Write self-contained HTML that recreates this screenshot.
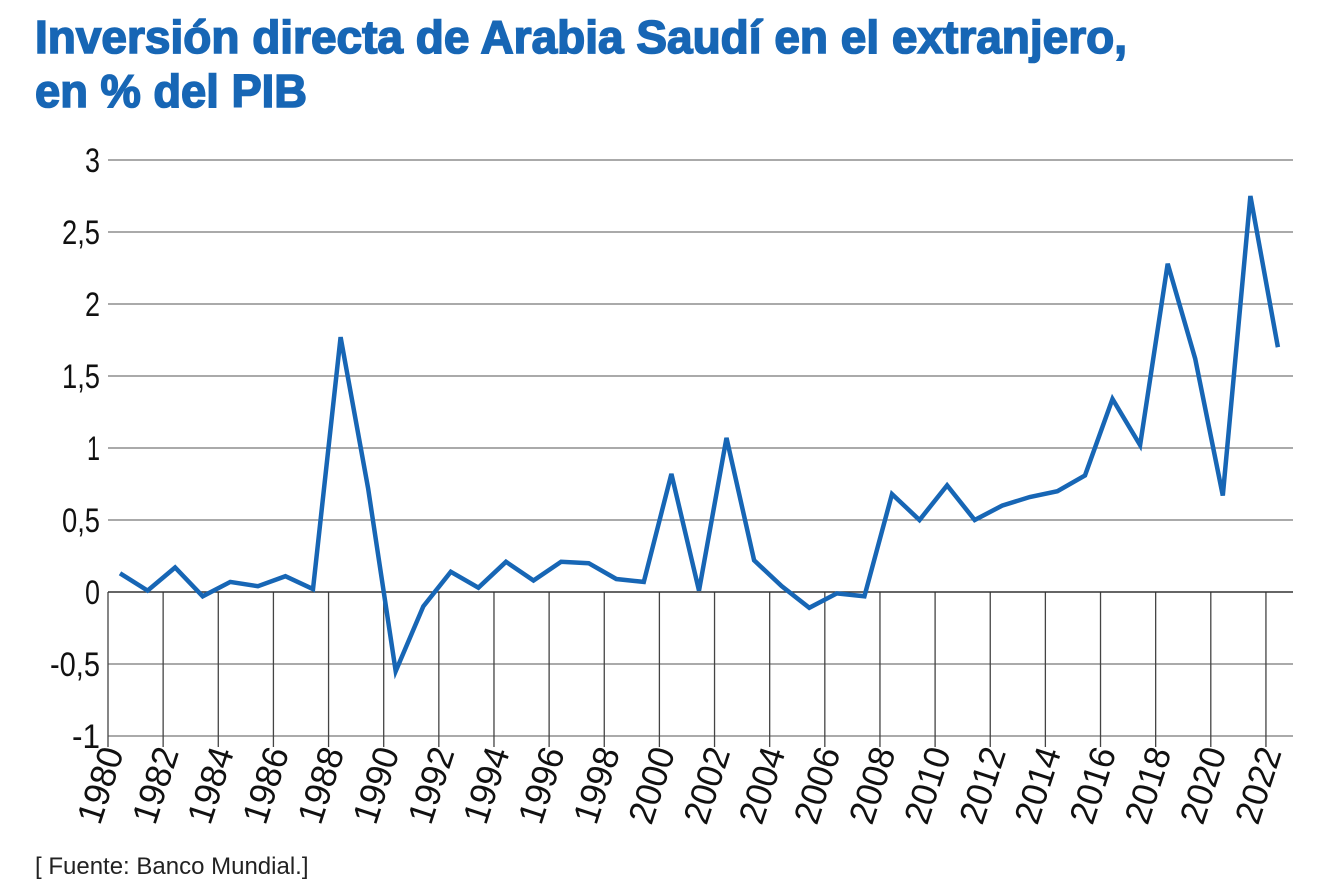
<!DOCTYPE html>
<html><head><meta charset="utf-8"><style>
html,body{margin:0;padding:0;background:#fff;}
svg{display:block;}
</style></head><body>
<svg width="1319" height="888" xmlns="http://www.w3.org/2000/svg">
<g font-family="'Liberation Sans', sans-serif" font-weight="bold" fill="#1766b5" stroke="#1766b5" stroke-width="1.6" font-size="46">
<text x="35" y="53" textLength="1092" lengthAdjust="spacingAndGlyphs">Inversión directa de Arabia Saudí en el extranjero,</text>
<text x="35" y="107" textLength="272" lengthAdjust="spacingAndGlyphs">en % del PIB</text>
</g>
<g stroke="#777" stroke-width="1.3">
<line x1="108" y1="160" x2="1293" y2="160"/>
<line x1="108" y1="232" x2="1293" y2="232"/>
<line x1="108" y1="304" x2="1293" y2="304"/>
<line x1="108" y1="376" x2="1293" y2="376"/>
<line x1="108" y1="448" x2="1293" y2="448"/>
<line x1="108" y1="520" x2="1293" y2="520"/>
<line x1="108" y1="664" x2="1293" y2="664"/>
<line x1="108" y1="736" x2="1293" y2="736"/>
</g>
<g stroke="#444" stroke-width="1.3" id="vl"></g>
<line x1="108" y1="592" x2="1293" y2="592" stroke="#333" stroke-width="1.5"/>
<g font-family="'Liberation Sans',sans-serif" font-size="34" fill="#111" text-anchor="end" lengthAdjust="spacingAndGlyphs">
<text x="100" y="172" textLength="15" lengthAdjust="spacingAndGlyphs">3</text>
<text x="100" y="244" textLength="38" lengthAdjust="spacingAndGlyphs">2,5</text>
<text x="100" y="316" textLength="15" lengthAdjust="spacingAndGlyphs">2</text>
<text x="100" y="388" textLength="38" lengthAdjust="spacingAndGlyphs">1,5</text>
<text x="100" y="460" textLength="13" lengthAdjust="spacingAndGlyphs">1</text>
<text x="100" y="532" textLength="38" lengthAdjust="spacingAndGlyphs">0,5</text>
<text x="100" y="604" textLength="15" lengthAdjust="spacingAndGlyphs">0</text>
<text x="100" y="676" textLength="50" lengthAdjust="spacingAndGlyphs">-0,5</text>
<text x="100" y="748" textLength="28" lengthAdjust="spacingAndGlyphs">-1</text>
</g>
<g id="xl" font-family="'Liberation Sans',sans-serif" font-size="36" fill="#111"></g>
<polyline id="ln" fill="none" stroke="#1766b5" stroke-width="4.5" stroke-linejoin="miter" stroke-linecap="butt"/>
<text x="35" y="874" font-family="'Liberation Sans', sans-serif" font-size="24" fill="#222">[ Fuente: Banco Mundial.]</text>
<script>
var v=[0.13,0.01,0.17,-0.03,0.07,0.04,0.11,0.02,1.77,0.72,-0.55,-0.1,0.14,0.03,0.21,0.08,0.21,0.2,0.09,0.07,0.82,0.01,1.07,0.22,0.04,-0.11,-0.01,-0.03,0.68,0.5,0.74,0.5,0.6,0.66,0.7,0.81,1.34,1.02,2.28,1.62,0.67,2.75,1.70];
var p=v.map(function(d,i){return (120+27.57*i).toFixed(1)+","+(592-144*d).toFixed(1);}).join(" ");
document.getElementById("ln").setAttribute("points",p);
var ns="http://www.w3.org/2000/svg",g=document.getElementById("vl"),xl=document.getElementById("xl");
for(var k=0;k<22;k++){var x=108+55.14*k;var l=document.createElementNS(ns,"line");
l.setAttribute("x1",x);l.setAttribute("x2",x);l.setAttribute("y1",592);l.setAttribute("y2",747);g.appendChild(l);
var t=document.createElementNS(ns,"text");t.setAttribute("text-anchor","end");
t.setAttribute("textLength","78");t.setAttribute("lengthAdjust","spacingAndGlyphs");
t.setAttribute("transform","translate("+(x+16)+",752) rotate(-72)");t.textContent=1980+2*k;xl.appendChild(t);}
</script>
</svg>
</body></html>
